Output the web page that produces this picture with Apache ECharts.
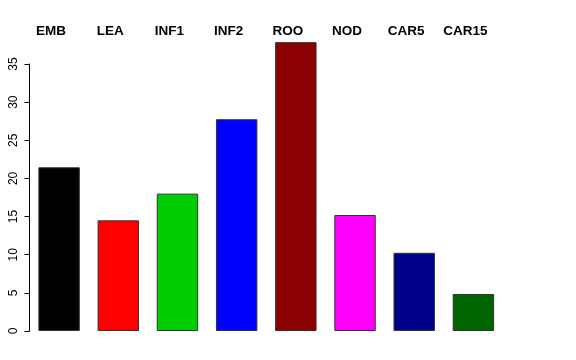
<!DOCTYPE html>
<html><head><meta charset="utf-8">
<script src="https://cdn.jsdelivr.net/npm/echarts@6/dist/echarts.min.js"></script>
<style>html,body{margin:0;padding:0;background:#fff}#c{width:576px;height:360px}</style>
</head><body><div id="c"></div>
<script>
var categories = ['EMB','LEA','INF1','INF2','ROO','NOD','CAR5','CAR15'];
var values = [21.45, 14.5, 18.0, 27.75, 37.85, 15.2, 10.25, 4.85];
var colors = ['#000000','#FF0000','#00CD00','#0000FF','#8B0000','#FF00FF','#00008B','#006400'];
var yTicks = [0,5,10,15,20,25,30,35];

var chart = echarts.init(document.getElementById('c'), null, {renderer:'canvas'});
chart.setOption({
  animation:false,
  backgroundColor:'#fff',
  grid:[
    {left:29.5, right:73, top:41, bottom:29},
    {left:29.5, right:73, top:64, bottom:29}
  ],
  xAxis:[
    {type:'category', gridIndex:0, data:categories, position:'top',
     axisLine:{show:false}, axisTick:{show:false},
     axisLabel:{fontFamily:'Liberation Sans, Arial, sans-serif', fontSize:13.5, fontWeight:'bold', color:'#000', margin:3, padding:[0,16,0,0]}},
    {type:'category', gridIndex:1, data:categories, show:false}
  ],
  yAxis:[
    {type:'value', gridIndex:0, min:0, max:38, show:false, splitLine:{show:false}},
    {type:'value', gridIndex:1, min:0, max:35, interval:5,
     axisLine:{show:true, lineStyle:{color:'#000', width:1}},
     axisTick:{show:true, inside:false, length:5, lineStyle:{color:'#000'}},
     splitLine:{show:false},
     axisLabel:{rotate:90, fontFamily:'Liberation Sans, Arial, sans-serif', fontSize:12, color:'#000', margin:10,
       formatter:function(v){return yTicks.indexOf(v)>=0?String(v):'';}}}
  ],
  series:[{
    type:'bar', xAxisIndex:0, yAxisIndex:0,
    barCategoryGap:'30%',
    data: values.map(function(v,i){return {value:v, itemStyle:{color:colors[i], borderColor:'#333', borderWidth:1}};})
  }]
});
</script></body></html>
